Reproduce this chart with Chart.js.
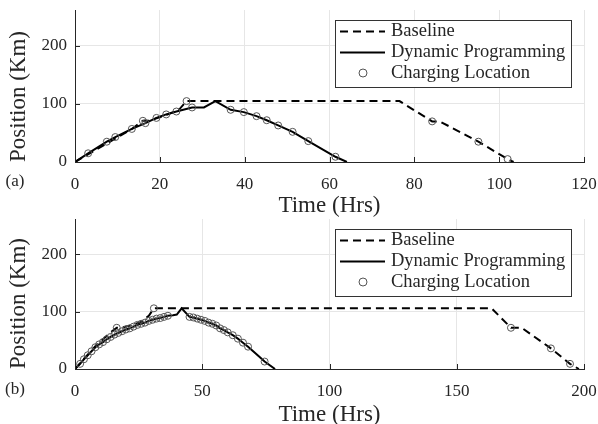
<!DOCTYPE html>
<html>
<head>
<meta charset="utf-8">
<script src="https://cdn.jsdelivr.net/npm/chart.js@4.4.0/dist/chart.umd.min.js"></script>
<style>
  html, body { margin: 0; padding: 0; background: #fff; }
  #wrap { position: relative; width: 598px; height: 424px; overflow: hidden; }
  .panel { position: absolute; left: 0; width: 598px; height: 224px; }
  canvas { display: block; }
</style>
</head>
<body>
<div id="wrap">
  <div class="panel" style="top:0"><canvas id="chartA" width="598" height="224"></canvas></div>
  <div class="panel" style="top:200px"><canvas id="chartB" width="598" height="224"></canvas></div>
</div>
<script>
// ---- data ----
// (a)
const dpTimeA = [0, 3.1, 7.5, 9.5, 13.4, 16.6, 19.2, 21.5, 23.9, 27.6, 30.4, 33.1, 36.7, 39.8, 42.8, 45.2, 47.9, 51.3, 55.0, 61.4, 64.1];
const dpPosA = [0, 15, 35, 43, 57, 67, 76, 82, 87, 94, 94, 105, 90, 86, 79, 72, 63, 52, 36, 9, 0];
const baseTimeA = [0, 13.4, 16.0, 17.5, 21.5, 24.5, 26.3, 76.5, 84.2, 86.0, 95.1, 102.0, 103.4];
const basePosA = [0, 57, 71, 71, 81, 90, 105, 105, 70, 70, 35, 5, 0];
const chargeTimeA = [3.1, 7.5, 9.5, 13.4, 16.6, 19.2, 21.5, 23.9, 27.6, 36.7, 39.8, 42.8, 45.2, 47.9, 51.3, 55.0, 61.4, 16.0, 26.3, 84.2, 95.1, 102.0];
const chargePosA = [15, 35, 43, 57, 67, 76, 82, 87, 94, 90, 86, 79, 72, 63, 52, 36, 9, 71, 105, 70, 35, 5];

// (b)
const dpTimeB = [0, 2, 3.5, 5, 6.5, 8, 9.5, 11, 12.5, 14, 15.5, 17, 18.5, 20, 21.5, 23, 24.5, 26, 27.5, 29, 30.5, 32, 33.5, 35, 36.5, 38.5, 40, 41.9, 45, 46.5, 48, 49.5, 51, 52.5, 54, 55.5, 57, 58.5, 60, 62, 64, 66, 68, 70, 72, 74.5, 78.6];
const dpPosB = [0, 9, 17, 24, 31, 38, 43, 47, 52, 56, 60, 63, 66, 69, 71, 74, 77, 79, 81, 84, 86, 88, 89, 91, 93, 94, 95, 106, 91, 90, 88, 86, 84, 81, 79, 76, 71, 68, 64, 59, 53, 46, 39, 31, 23, 13, 0];
const baseTimeB = [0, 8, 14, 16.4, 18, 22, 26, 29, 31, 163.7, 171.3, 175.5, 187, 194.5, 198];
const basePosB = [0, 40, 64, 72, 72, 76, 82, 93, 106, 106, 72, 72, 36, 9, 0];
const chargeTimeB = [2, 3.5, 5, 6.5, 8, 9.5, 11, 12.5, 14, 15.5, 17, 18.5, 20, 21.5, 23, 24.5, 26, 27.5, 29, 30.5, 32, 33.5, 35, 36.5, 45, 46.5, 48, 49.5, 51, 52.5, 54, 55.5, 57, 58.5, 60, 62, 64, 66, 68, 74.5, 16.4, 31, 171.3, 187, 194.5];
const chargePosB = [9, 17, 24, 31, 38, 43, 47, 52, 56, 60, 63, 66, 69, 71, 74, 77, 79, 81, 84, 86, 88, 89, 91, 93, 91, 90, 88, 86, 84, 81, 79, 76, 71, 68, 64, 59, 53, 46, 39, 13, 72, 106, 72, 36, 9];

const xTicksA = [0, 20, 40, 60, 80, 100, 120];
const xTicksB = [0, 50, 100, 150, 200];
const yTicks = [0, 100, 200];
const legendLabels = ['Baseline', 'Dynamic Programming', 'Charging Location'];

const INK = '#262626';
Chart.defaults.font.family = "'Liberation Serif', 'DejaVu Serif', serif";
Chart.defaults.color = INK;

function pts(xs, ys) {
    return xs.map((x, i) => ({ x: x, y: ys[i] }));
}

// inward tick marks, boxed legend and the panel letter
const figureDecor = {
    id: 'figureDecor',
    afterDraw(chart, args, opts) {
        const { ctx, chartArea, scales } = chart;
        ctx.save();
        ctx.strokeStyle = INK;
        ctx.lineWidth = 1;
        scales.x.ticks.forEach(t => {
            const px = Math.round(scales.x.getPixelForValue(t.value)) + 0.5;
            ctx.beginPath();
            ctx.moveTo(px, chartArea.bottom);
            ctx.lineTo(px, chartArea.bottom - 5);
            ctx.stroke();
        });
        scales.y.ticks.forEach(t => {
            const py = Math.round(scales.y.getPixelForValue(t.value)) + 0.5;
            ctx.beginPath();
            ctx.moveTo(chartArea.left, py);
            ctx.lineTo(chartArea.left + 5, py);
            ctx.stroke();
        });

        // legend box
        const w = 236, h = 67;
        const x0 = Math.round(chartArea.right - 13 - w), y0 = Math.round(chartArea.top + 10);
        ctx.fillStyle = '#fff';
        ctx.fillRect(x0, y0, w, h);
        ctx.strokeStyle = '#333';
        ctx.strokeRect(x0 + 0.5, y0 + 0.5, w, h);

        const rows = [y0 + 11.5, y0 + 32.5, y0 + 53];
        ctx.strokeStyle = '#000';
        ctx.lineWidth = 2;
        ctx.setLineDash([8, 5]);
        ctx.beginPath();
        ctx.moveTo(x0 + 5, rows[0]);
        ctx.lineTo(x0 + 50, rows[0]);
        ctx.stroke();
        ctx.setLineDash([]);
        ctx.beginPath();
        ctx.moveTo(x0 + 5, rows[1]);
        ctx.lineTo(x0 + 50, rows[1]);
        ctx.stroke();
        ctx.lineWidth = 1;
        ctx.strokeStyle = '#555';
        ctx.beginPath();
        ctx.arc(x0 + 28, rows[2], 4, 0, Math.PI * 2);
        ctx.stroke();

        ctx.fillStyle = INK;
        ctx.font = "18.5px 'Liberation Serif', 'DejaVu Serif', serif";
        ctx.textBaseline = 'middle';
        ctx.textAlign = 'left';
        legendLabels.forEach((lab, i) => ctx.fillText(lab, x0 + 56, rows[i]));

        // panel letter
        ctx.font = "17px 'Liberation Serif', 'DejaVu Serif', serif";
        ctx.textAlign = 'center';
        ctx.fillText(opts.panel, 15, opts.panelY);
        ctx.restore();
    }
};

function buildChart(id, cfg) {
    const el = document.getElementById(id);
    return new Chart(el, {
        type: 'scatter',
        data: {
            datasets: [
                {
                    label: 'Charging Location',
                    data: pts(cfg.chargeT, cfg.chargeP),
                    pointStyle: 'circle',
                    pointRadius: 3.5,
                    pointBorderWidth: 1,
                    pointBorderColor: '#555',
                    pointBackgroundColor: 'rgba(255,255,255,0)',
                    order: 0
                },
                {
                    label: 'Dynamic Programming',
                    data: pts(cfg.dpT, cfg.dpP),
                    showLine: true,
                    borderColor: '#000',
                    borderWidth: 2,
                    pointRadius: 0,
                    tension: 0,
                    order: 1
                },
                {
                    label: 'Baseline',
                    data: pts(cfg.baseT, cfg.baseP),
                    showLine: true,
                    borderColor: '#000',
                    borderWidth: 2,
                    borderDash: [8, 5],
                    pointRadius: 0,
                    tension: 0,
                    order: 2
                }
            ]
        },
        options: {
            responsive: false,
            animation: false,
            events: [],
            layout: { padding: { left: 0, right: 14, top: cfg.top, bottom: 0 } },
            plugins: {
                legend: { display: false },
                tooltip: { enabled: false },
                figureDecor: { panel: cfg.panel, panelY: cfg.panelY }
            },
            scales: {
                x: {
                    type: 'linear',
                    min: 0,
                    max: cfg.xMax,
                    afterBuildTicks: s => { s.ticks = cfg.xTicks.map(v => ({ value: v })); },
                    afterFit: s => {
                        s.height = cfg.xHeight;
                        s.paddingLeft = 0;
                        s.paddingRight = 0;
                    },
                    grid: { color: '#e6e6e6', drawTicks: false },
                    border: { color: INK, width: 1 },
                    ticks: { padding: 12, maxRotation: 0, font: { size: 17 } },
                    title: {
                        display: true,
                        text: 'Time (Hrs)',
                        font: { size: 23, lineHeight: 1 },
                        padding: { top: 0, bottom: cfg.titlePad }
                    }
                },
                y: {
                    type: 'linear',
                    min: 0,
                    max: 262,
                    afterBuildTicks: s => { s.ticks = yTicks.map(v => ({ value: v })); },
                    afterFit: s => {
                        s.width = 75;
                        s.paddingTop = 0;
                        s.paddingBottom = 0;
                    },
                    grid: { color: '#e6e6e6', drawTicks: false },
                    border: { color: INK, width: 1 },
                    ticks: { padding: 8, font: { size: 17 } },
                    title: {
                        display: true,
                        text: 'Position (Km)',
                        align: 'start',
                        font: { size: 23 },
                        padding: { top: 5, bottom: 0 }
                    }
                }
            }
        },
        plugins: [figureDecor]
    });
}

// top panel: canvas at y=0, plot area 10..162
buildChart('chartA', {
    dpT: dpTimeA, dpP: dpPosA,
    baseT: baseTimeA, baseP: basePosA,
    chargeT: chargeTimeA, chargeP: chargePosA,
    xMax: 120, xTicks: xTicksA,
    top: 10, xHeight: 62, titlePad: 7,
    panel: '(a)', panelY: 182
});

// bottom panel: canvas at y=200, plot area 219..369
buildChart('chartB', {
    dpT: dpTimeB, dpP: dpPosB,
    baseT: baseTimeB, baseP: basePosB,
    chargeT: chargeTimeB, chargeP: chargePosB,
    xMax: 200, xTicks: xTicksB,
    top: 19, xHeight: 55, titlePad: -2,
    panel: '(b)', panelY: 190
});
</script>
</body>
</html>
